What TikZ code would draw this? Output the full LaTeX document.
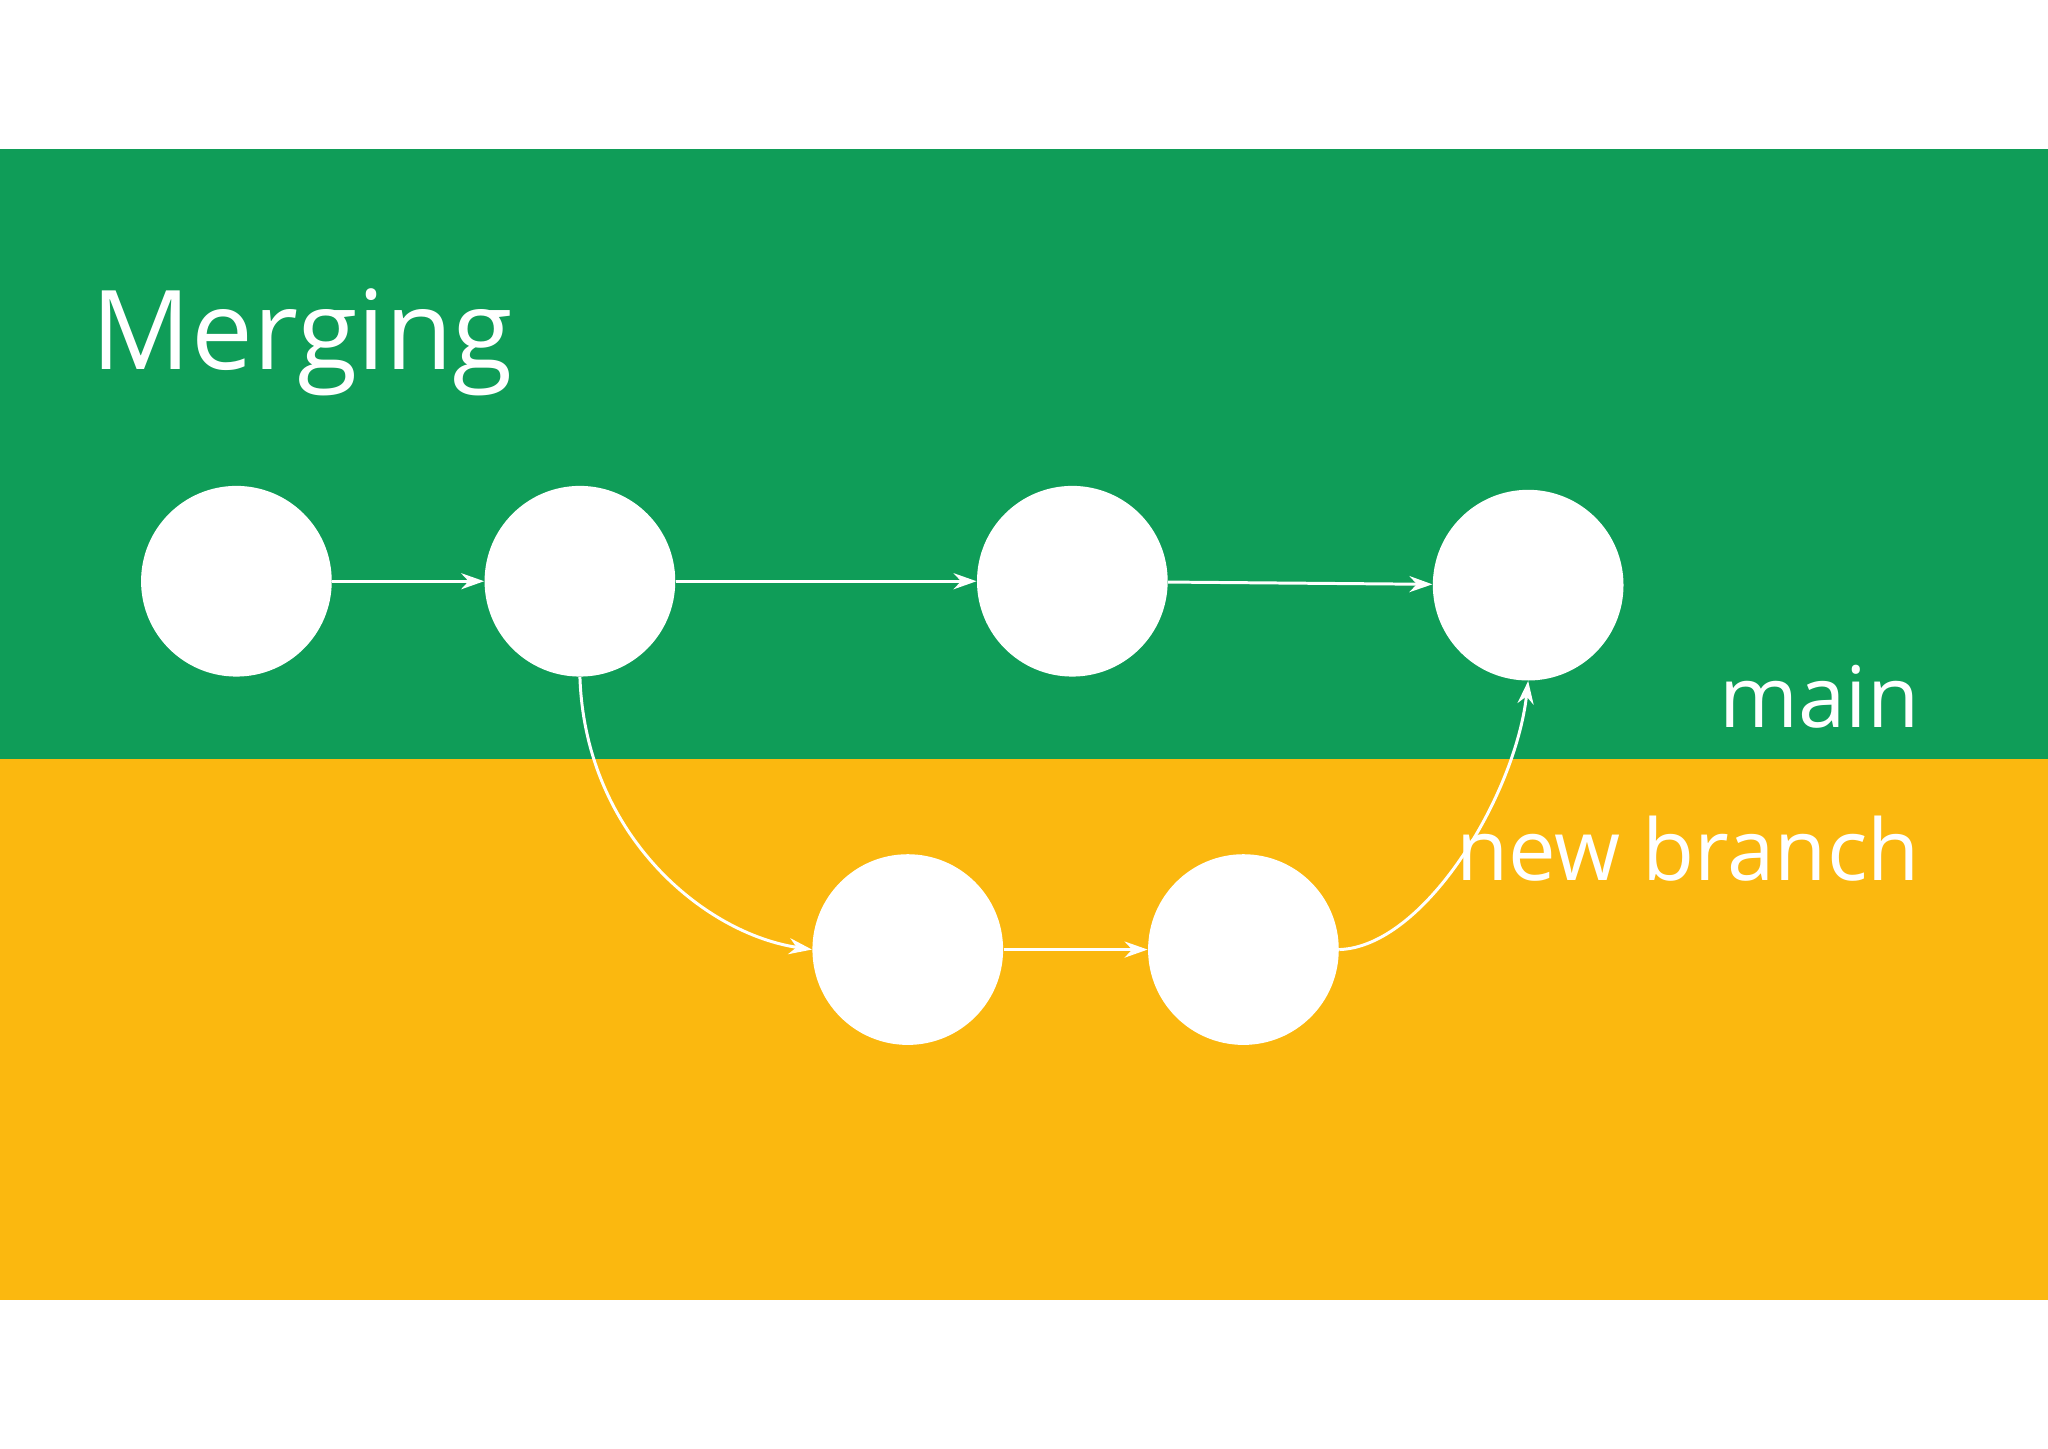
\documentclass[tikz,border=0pt]{standalone}
\usepackage{fontspec}
\setmainfont{Open Sans}
\usetikzlibrary{arrows.meta}
\definecolor{gg}{HTML}{0F9D58}
\definecolor{gy}{HTML}{FBB80F}
\begin{document}
\begin{tikzpicture}[x=0.02cm,y=-0.02cm,
  commit/.style={circle,fill=white,minimum size=146*0.02cm,inner sep=0},
  link/.style={white,line width=1.3pt,-{Stealth[length=10pt,width=7pt]}},
  lbl/.style={text=white,anchor=base east,inner sep=0}]
\useasboundingbox (0,0) rectangle (1568,1109);
\fill[white] (0,0) rectangle (1568,1109);
\fill[gg] (0,114) rectangle (1568,581);
\fill[gy] (0,581) rectangle (1568,995);
\node[text=white,anchor=base west,inner sep=0,font=\fontsize{48}{56}\selectfont] (title) at (70,283) {Merging};
\node[commit] (a) at (181,445) {};
\node[commit] (b) at (444,445) {};
\node[commit] (c) at (821,445) {};
\node[commit] (d) at (1170,448) {};
\node[commit] (e) at (695,727) {};
\node[commit] (f) at (952,727) {};
\node[lbl,font=\fontsize{37}{44}\selectfont] (main) at (1470,557) {main};
\node[lbl,font=\fontsize{37}{44}\selectfont] (nb) at (1470,674) {new branch};
\draw[link] (a) -- (b);
\draw[link] (b) -- (c);
\draw[link] (c) -- (d);
\draw[link] (e) -- (f);
\draw[link] (b.south) .. controls (448,640) and (540,715) .. (e.west);
\draw[link] (f.east) .. controls (1090,725) and (1160,610) .. (d.south);
\end{tikzpicture}
\end{document}
